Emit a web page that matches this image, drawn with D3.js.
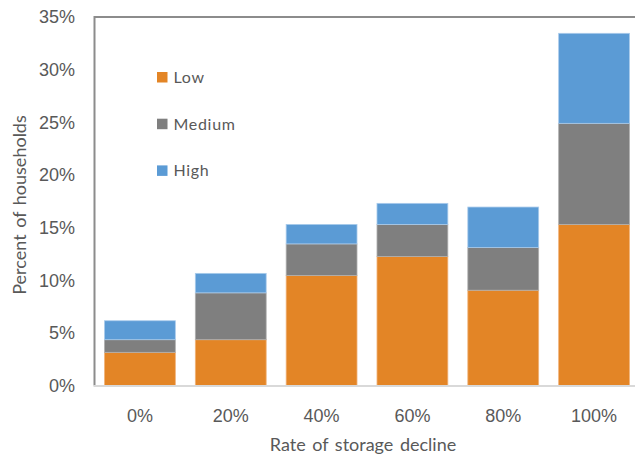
<!DOCTYPE html>
<html>
<head>
<meta charset="utf-8">
<script src="https://cdn.jsdelivr.net/npm/d3@7"></script>
<style>
  html, body { margin: 0; padding: 0; background: #fff; }
  svg { display: block; }
</style>
</head>
<body>
<svg id="chart" width="635" height="457"></svg>
<script>
// Rate of storage decline categories
const categories = ["0%", "20%", "40%", "60%", "80%", "100%"];
// Percent of households in each stack segment
const lowValues    = [3.15, 4.35, 10.45, 12.25, 9.05, 15.3];
const mediumValues = [1.2, 4.45, 3.0, 3.05, 4.05, 9.6];
const highValues   = [1.8, 1.85, 1.85, 2.0, 3.85, 8.55];
const seriesNames  = ["Low", "Medium", "High"];
const yTicks = [0, 5, 10, 15, 20, 25, 30, 35];

const colors = { Low: "#E38526", Medium: "#7F7F7F", High: "#5B9BD5" };
const strokes = { Low: "#F0B37A", Medium: "#B0B0B0", High: "#A9CBEB" };

const rows = categories.map((c, i) => ({
  cat: c, Low: lowValues[i], Medium: mediumValues[i], High: highValues[i]
}));
const stacked = d3.stack().keys(seriesNames)(rows);

const svg = d3.select("#chart");
const plot = { left: 94.5, top: 17, right: 639.5, bottom: 385.5 };

const x = d3.scaleBand()
  .domain(categories)
  .range([plot.left, plot.right])
  .paddingInner(0.22)
  .paddingOuter(0.11);
const y = d3.scaleLinear().domain([0, 35]).range([plot.bottom, plot.top]);

const textColor = "#595959";

// Plot area frame (top and left edges)
svg.append("path")
  .attr("d", `M${plot.left},${plot.bottom} V${plot.top} H${plot.right}`)
  .attr("fill", "none")
  .attr("stroke", "#8C8C8C")
  .attr("stroke-width", 2);

// Stacked bars
svg.append("g").selectAll("g")
  .data(stacked)
  .join("g")
  .attr("fill", d => colors[d.key])
  .attr("stroke", d => strokes[d.key])
  .attr("stroke-width", 0.8)
  .selectAll("rect")
  .data(d => d)
  .join("rect")
  .attr("x", d => x(d.data.cat))
  .attr("width", x.bandwidth())
  .attr("y", d => y(d[1]))
  .attr("height", d => y(d[0]) - y(d[1]));

// Category axis line
svg.append("line")
  .attr("x1", plot.left - 1).attr("x2", plot.right)
  .attr("y1", plot.bottom + 0.5).attr("y2", plot.bottom + 0.5)
  .attr("stroke", "#D9D9D9").attr("stroke-width", 2);

// Value axis tick labels
svg.append("g").selectAll("text")
  .data(yTicks)
  .join("text")
  .attr("x", 75)
  .attr("y", d => y(d))
  .attr("dy", "0.36em")
  .attr("text-anchor", "end")
  .attr("font-family", "Liberation Sans, Arial, sans-serif")
  .attr("font-size", 18)
  .attr("fill", textColor)
  .text(d => d + "%");

// Category tick labels
svg.append("g").selectAll("text")
  .data(categories)
  .join("text")
  .attr("x", d => x(d) + x.bandwidth() / 2)
  .attr("y", 422)
  .attr("text-anchor", "middle")
  .attr("font-family", "Liberation Sans, Arial, sans-serif")
  .attr("font-size", 18)
  .attr("fill", textColor)
  .text(d => d);

// Axis titles
svg.append("text")
  .attr("x", 363)
  .attr("y", 451)
  .attr("text-anchor", "middle")
  .attr("font-family", "Lato, sans-serif")
  .attr("font-size", 18)
  .attr("word-spacing", 2)
  .attr("fill", textColor)
  .text("Rate of storage decline");

svg.append("text")
  .attr("transform", "translate(26,205) rotate(-90)")
  .attr("text-anchor", "middle")
  .attr("font-family", "Lato, sans-serif")
  .attr("font-size", 18)
  .attr("word-spacing", 2)
  .attr("fill", textColor)
  .text("Percent of households");

// Legend
const legend = svg.append("g").selectAll("g")
  .data(seriesNames)
  .join("g")
  .attr("transform", (d, i) => `translate(157,${77 + i * 46.7})`);
legend.append("rect")
  .attr("x", 0).attr("y", -5)
  .attr("width", 10.5).attr("height", 10.5)
  .attr("fill", d => colors[d]);
legend.append("text")
  .attr("x", 16.5)
  .attr("y", 5.8)
  .attr("font-family", "Lato, sans-serif")
  .attr("font-size", 16)
  .attr("letter-spacing", 0.7)
  .attr("fill", textColor)
  .text(d => d);
</script>
</body>
</html>
